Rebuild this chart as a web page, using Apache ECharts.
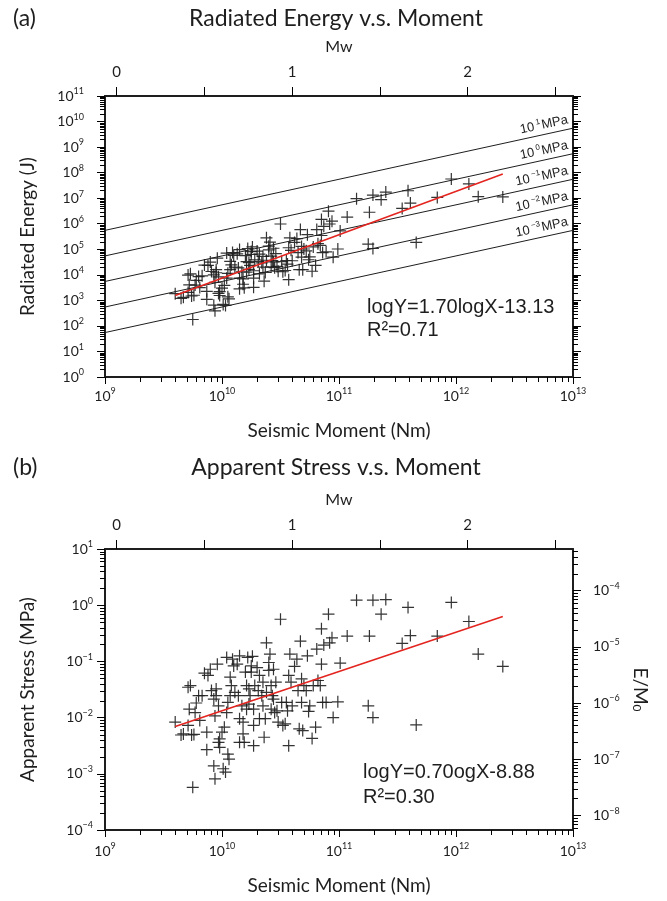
<!DOCTYPE html>
<html lang="en">

<head>
    <meta charset="UTF-8">
    <title>Radiated Energy / Apparent Stress v.s. Moment</title>
    <style>
        html,
        body {
            margin: 0;
            padding: 0;
            background: #fff;
        }

        #main {
            width: 667px;
            height: 901px;
        }
    </style>
    <script src="https://cdn.jsdelivr.net/npm/echarts@6/dist/echarts.min.js"></script>
</head>

<body>
    <div id="main"></div>
    <script>
        // every value is log10 (moment in Nm, stress in MPa, energy in J)
        const momentExp = [
            9.60, 9.65, 9.67, 9.71, 9.73, 9.72, 9.74, 9.76, 9.71, 9.78, 9.75, 9.80, 9.77,
            9.81, 9.83, 9.87, 9.87, 9.88, 9.85, 9.90, 9.93, 9.94, 9.95, 9.96, 9.97, 9.93, 9.94, 9.97, 9.98, 9.98, 9.95, 9.91,
            10.00, 10.01, 10.03, 10.02, 10.04, 10.05, 10.06, 10.04, 10.05, 10.07, 10.07, 10.08, 10.09, 10.10, 10.11, 10.13, 10.14, 10.15, 10.15, 10.15, 10.17, 10.18,
            10.18, 10.19, 10.20, 10.21, 10.21, 10.22, 10.23, 10.23, 10.24, 10.25, 10.25, 10.26, 10.27, 10.27, 10.27, 10.28, 10.30, 10.31, 10.32, 10.32, 10.34, 10.35, 10.35, 10.36, 10.37, 10.38, 10.38,
            10.40, 10.40, 10.41, 10.42, 10.42, 10.43, 10.44, 10.44, 10.45, 10.46, 10.47, 10.48, 10.50, 10.51, 10.52, 10.54, 10.55, 10.56,
            10.57, 10.57, 10.58, 10.59, 10.60, 10.62, 10.64, 10.65, 10.66, 10.67, 10.68, 10.68, 10.69, 10.70, 10.72, 10.73, 10.74, 10.75, 10.77, 10.78, 10.80, 10.81,
            10.82, 10.84, 10.85, 10.85, 10.86, 10.87, 10.89, 10.91, 10.92, 10.94, 10.95, 10.99, 11.01,
            11.07, 11.15, 11.25, 11.26, 11.29, 11.29, 11.36, 11.40, 11.54, 11.59, 11.61, 11.66, 11.84, 11.96, 12.11, 12.19, 12.40
        ];
        const stressExp = [
            -2.08, -2.31, -2.29, -1.46, -1.43, -1.85, -2.31, -2.30, -2.14, -1.74, -3.24, -1.61, -1.91,
            -2.05, -1.61, -2.26, -2.57, -1.25, -1.21, -1.14, -1.67, -1.97, -1.49, -1.05, -1.79, -2.86, -3.09, -2.44, -2.38, -2.53, -1.61, -1.52,
            -2.26, -2.91, -2.97, -2.17, -0.93, -2.65, -2.74, -1.91, -1.73, -1.61, -1.28, -1.43, -0.96, -1.08, -1.55, -1.05, -1.61, -2.02, -0.90, -2.44, -1.79, -2.08,
            -2.29, -2.44, -1.19, -1.85, -1.43, -0.93, -1.49, -1.76, -1.61, -1.08, -1.19, -0.91, -1.85, -2.50, -2.14, -1.43, -1.11, -1.52, -2.02, -1.25, -1.61, -1.37, -1.79, -2.35, -2.02, -1.55, -0.67,
            -1.16, -1.02, -0.87, -1.85, -1.43, -1.61, -1.14, -1.67, -1.91, -1.37, -1.88, -2.08, -0.25, -1.73, -2.14, -2.11, -1.73, -1.88,
            -1.25, -2.50, -0.87, -1.37, -1.79, -1.09, -0.96, -1.52, -2.20, -0.64, -1.73, -1.31, -2.23, -1.43, -1.52, -0.90, -1.89, -1.79, -2.37, -1.43, -2.17, -0.78,
            -1.34, -1.43, -0.42, -1.05, -1.73, -0.71, -1.73, -0.16, -0.67, -0.58, -2.00, -1.72, -1.03,
            -0.55, 0.09, -1.79, -0.55, -2.00, 0.09, -0.16, 0.10, -0.68, -0.04, -0.54, -2.13, -0.55, 0.05, -0.29, -0.87, -1.09
        ];
        const energyExp = [
            3.26, 3.08, 3.12, 3.99, 4.04, 3.61, 3.17, 3.20, 3.31, 3.78, 2.25, 3.93, 3.60,
            3.50, 3.96, 3.35, 3.04, 4.37, 4.38, 4.50, 4.00, 3.71, 4.20, 4.65, 3.92, 2.81, 2.59, 3.27, 3.34, 3.19, 4.08, 4.13,
            3.48, 2.84, 2.80, 3.59, 4.85, 3.14, 3.06, 3.87, 4.06, 4.20, 4.53, 4.39, 4.87, 4.76, 4.30, 4.82, 4.27, 3.87, 4.99, 3.45, 4.12, 3.84,
            3.63, 3.49, 4.75, 4.10, 4.52, 5.03, 4.48, 4.21, 4.37, 4.91, 4.80, 5.09, 4.16, 3.51, 3.87, 4.59, 4.93, 4.53, 4.04, 4.81, 4.47, 4.72, 4.30, 3.75, 4.09, 4.57, 5.45,
            4.98, 5.12, 5.28, 4.31, 4.73, 4.56, 5.04, 4.51, 4.28, 4.83, 4.33, 4.14, 5.99, 4.52, 4.12, 4.17, 4.56, 4.42,
            5.06, 3.81, 5.45, 4.96, 4.55, 5.27, 5.42, 4.87, 4.20, 5.77, 4.69, 5.11, 4.20, 5.01, 4.94, 5.57, 4.59, 4.70, 4.14, 5.09, 4.37, 5.77,
            5.22, 5.15, 6.17, 5.54, 4.87, 5.90, 4.90, 6.49, 5.99, 6.10, 4.69, 5.01, 5.72,
            6.26, 6.98, 5.20, 6.45, 5.03, 7.12, 6.94, 7.24, 6.60, 7.29, 6.81, 5.27, 7.03, 7.75, 7.56, 7.06, 7.05
        ];

        // constant apparent-stress lines in panel (a): log E at M0 = 1e9 and 1e13
        const stressLevels = ['1', '0', '−1', '−2', '−3'];
        const stressLineStart = [5.74, 4.74, 3.74, 2.74, 1.74];
        const stressLineEnd = [9.74, 8.74, 7.74, 6.74, 5.74];

        // regression lines (log M0, log Y)
        const energyFit = [[9.60, 3.19], [12.40, 7.95]];
        const stressFit = [[9.60, -2.16], [12.40, -0.20]];

        const mwTicks = [0, 0.5, 1, 1.5, 2, 2.5];
        const mwLabels = [0, 1, 2];
        const MW_MIN = -0.0667, MW_MAX = 2.6;
        const RATIO_MIN = Math.pow(10, -8.26), RATIO_MAX = Math.pow(10, -3.26);

        const INK = '#1e1e1e';
        const FONT = 'Lato, "Open Sans", sans-serif';
        const ARIAL = '"Liberation Sans", Arial, sans-serif';
        const PLUS = 'path://M5.4,0H6.6V5.4H12V6.6H6.6V12H5.4V6.6H0V5.4H5.4Z';

        const pow = e => Math.pow(10, e);

        function decades(a, b) {
            const out = [];
            for (let e = a; e <= b; e++) out.push(pow(e));
            return out;
        }

        // 2..9 x 10^e between lo and hi, for the small log ticks
        function minors(a, b, lo, hi) {
            const out = [];
            for (let e = a; e <= b; e++) {
                for (let m = 2; m <= 9; m++) {
                    const v = m * pow(e);
                    if (v > lo && v < hi) out.push(v);
                }
            }
            return out;
        }

        const labelRich = {
            b: { fontFamily: FONT, fontSize: 14, color: INK, lineHeight: 18 },
            s: { fontFamily: FONT, fontSize: 9, color: INK, verticalAlign: 'top', lineHeight: 18 }
        };

        function powLabel(v) {
            const e = Math.round(Math.log10(v));
            return '{b|10}{s|' + (e < 0 ? '−' + (-e) : e) + '}';
        }

        const nameStyle = { fontFamily: FONT, fontSize: 19, color: INK };
        const frame = { show: true, onZero: false, lineStyle: { color: INK, width: 2 } };

        function momentAxis(grid, margin, gap) {
            return {
                type: 'log', gridIndex: grid, position: 'bottom', min: 1e9, max: 1e13,
                name: 'Seismic Moment (Nm)', nameLocation: 'middle', nameGap: gap, nameTextStyle: nameStyle,
                axisLine: frame,
                axisTick: { show: true, length: 7, customValues: decades(9, 13), lineStyle: { color: '#000' } },
                axisLabel: { margin: margin, customValues: decades(9, 13), formatter: powLabel, rich: labelRich },
                splitLine: { show: false }
            };
        }

        function mwAxis(grid) {
            return {
                type: 'value', gridIndex: grid, position: 'top', min: MW_MIN, max: MW_MAX,
                name: 'Mw', nameLocation: 'middle', nameGap: 41,
                nameTextStyle: { fontFamily: FONT, fontSize: 16, color: INK },
                axisLine: frame,
                axisTick: { show: true, length: 9, customValues: mwTicks, lineStyle: { color: '#000' } },
                axisLabel: { margin: 16, customValues: mwLabels, fontFamily: FONT, fontSize: 15, color: INK },
                splitLine: { show: false }
            };
        }

        function logYAxis(grid, position, min, max, ticks, opts) {
            return Object.assign({
                type: 'log', gridIndex: grid, position: position, min: min, max: max,
                axisLine: frame,
                axisTick: { show: true, length: 8, customValues: ticks, lineStyle: { color: '#000' } },
                axisLabel: { show: false },
                splitLine: { show: false }
            }, opts || {});
        }

        // short outward strokes at the 2..9 positions, placed through the axes' own scales
        function minorTicks(xIdx, yIdx, points, dx, dy) {
            return {
                type: 'custom', xAxisIndex: xIdx, yAxisIndex: yIdx, clip: false, silent: true, z: 2,
                data: points,
                renderItem: (params, api) => {
                    const p = api.coord([api.value(0), api.value(1)]);
                    // snap to the pixel grid so a 1px stroke stays sharp
                    const x = dy ? Math.round(p[0]) + 0.5 : p[0];
                    const y = dx ? Math.round(p[1]) + 0.5 : p[1];
                    return {
                        type: 'line',
                        shape: { x1: x, y1: y, x2: x + dx, y2: y + dy },
                        style: { stroke: '#000', lineWidth: 1 }
                    };
                }
            };
        }

        const chart = echarts.init(document.getElementById('main'));

        const energyPoints = momentExp.map((m, i) => [pow(m), pow(energyExp[i])]);
        const stressPoints = momentExp.map((m, i) => [pow(m), pow(stressExp[i])]);

        const stressLineSeries = stressLevels.map((lvl, i) => ({
            name: '10^' + lvl + ' MPa',
            type: 'line', xAxisIndex: 0, yAxisIndex: 0,
            data: [[1e9, pow(stressLineStart[i])], [1e13, pow(stressLineEnd[i])]],
            symbol: 'none', silent: true, z: 3,
            lineStyle: { color: INK, width: 1 }
        }));

        const minorM = minors(9, 12, 1e9, 1e13);
        const minorE = minors(0, 10, 1, 1e11);
        const minorS = minors(-4, 0, 1e-4, 10);
        const minorR = minors(-9, -4, RATIO_MIN, RATIO_MAX);

        const tickSeries = [
            minorTicks(0, 0, minorM.map(v => [v, 1]), 0, 5),
            minorTicks(0, 0, minorE.map(v => [1e9, v]), -5, 0),
            minorTicks(0, 0, minorE.map(v => [1e13, v]), 5, 0),
            minorTicks(2, 2, minorM.map(v => [v, 1e-4]), 0, 5),
            minorTicks(2, 2, minorS.map(v => [1e9, v]), -5, 0),
            minorTicks(2, 3, minorR.map(v => [1e13, v]), 5, 0)
        ];

        const option = {
            animation: false,
            backgroundColor: '#fff',
            grid: [
                { left: 105, top: 96, width: 468, height: 281 },
                { left: 105, top: 549, width: 468, height: 281 }
            ],
            xAxis: [
                momentAxis(0, 10, 44),
                mwAxis(0),
                momentAxis(1, 12, 46),
                mwAxis(1)
            ],
            yAxis: [
                logYAxis(0, 'left', 1, 1e11, decades(0, 11), {
                    name: 'Radiated Energy (J)', nameLocation: 'middle', nameGap: 68, nameTextStyle: nameStyle,
                    axisLabel: { margin: 21, customValues: decades(0, 11), formatter: powLabel, rich: labelRich }
                }),
                logYAxis(0, 'right', 1, 1e11, decades(0, 11)),
                logYAxis(1, 'left', 1e-4, 10, decades(-4, 1), {
                    name: 'Apparent Stress (MPa)', nameLocation: 'middle', nameGap: 68, nameTextStyle: nameStyle,
                    axisLabel: { margin: 12, customValues: decades(-4, 1), formatter: powLabel, rich: labelRich }
                }),
                logYAxis(1, 'right', RATIO_MIN, RATIO_MAX, decades(-8, -4), {
                    name: 'E/M{sub|0}', nameLocation: 'middle', nameGap: 58, nameRotate: -90,
                    nameTextStyle: {
                        fontFamily: FONT, fontSize: 19, color: INK,
                        rich: { sub: { fontFamily: FONT, fontSize: 12, color: INK, verticalAlign: 'bottom' } }
                    },
                    axisLabel: { margin: 20, customValues: decades(-8, -4), formatter: powLabel, rich: labelRich }
                })
            ],
            series: tickSeries.concat(stressLineSeries, [
                {
                    name: 'Radiated Energy', type: 'scatter', xAxisIndex: 0, yAxisIndex: 0,
                    data: energyPoints, symbol: PLUS, symbolSize: 12, z: 4,
                    itemStyle: { color: INK, opacity: 0.9 }
                },
                {
                    name: 'Energy fit', type: 'line', xAxisIndex: 0, yAxisIndex: 0,
                    data: energyFit.map(p => [pow(p[0]), pow(p[1])]),
                    symbol: 'none', silent: true, z: 6,
                    lineStyle: { color: '#e3241f', width: 1.6 }
                },
                {
                    name: 'Apparent Stress', type: 'scatter', xAxisIndex: 2, yAxisIndex: 2,
                    data: stressPoints, symbol: PLUS, symbolSize: 12, z: 4,
                    itemStyle: { color: INK, opacity: 0.9 }
                },
                {
                    name: 'Stress fit', type: 'line', xAxisIndex: 2, yAxisIndex: 2,
                    data: stressFit.map(p => [pow(p[0]), pow(p[1])]),
                    symbol: 'none', silent: true, z: 6,
                    lineStyle: { color: '#e3241f', width: 1.6 }
                }
            ])
        };

        chart.setOption(option);

        // texts: panel titles, regression notes and labels riding on the stress lines
        const titleFont = { fontFamily: FONT, fontSize: 23, fill: INK, verticalAlign: 'middle' };
        const noteFont = { fontFamily: ARIAL, fontSize: 20, fill: INK, verticalAlign: 'middle' };
        const graphics = [
            { type: 'text', x: 13, y: 19, style: Object.assign({ text: '(a)' }, titleFont) },
            { type: 'text', x: 336, y: 19, style: Object.assign({ text: 'Radiated Energy v.s. Moment', align: 'center' }, titleFont) },
            { type: 'text', x: 13, y: 468, style: Object.assign({ text: '(b)' }, titleFont) },
            { type: 'text', x: 336, y: 468, style: Object.assign({ text: 'Apparent Stress v.s. Moment', align: 'center' }, titleFont) },
            { type: 'text', x: 367, y: 307, style: Object.assign({ text: 'logY=1.70logX-13.13' }, noteFont) },
            { type: 'text', x: 367, y: 330, style: Object.assign({ text: 'R²=0.71' }, noteFont) },
            { type: 'text', x: 363, y: 772, style: Object.assign({ text: 'logY=0.70ogX-8.88' }, noteFont) },
            { type: 'text', x: 363, y: 797, style: Object.assign({ text: 'R²=0.30' }, noteFont) }
        ];

        const labelAt = 12.97;
        stressLevels.forEach((lvl, i) => {
            const a = chart.convertToPixel({ xAxisIndex: 0, yAxisIndex: 0 }, [1e9, pow(stressLineStart[i])]);
            const b = chart.convertToPixel({ xAxisIndex: 0, yAxisIndex: 0 }, [1e13, pow(stressLineEnd[i])]);
            const logE = stressLineStart[i] + (labelAt - 9) * (stressLineEnd[i] - stressLineStart[i]) / 4;
            const p = chart.convertToPixel({ xAxisIndex: 0, yAxisIndex: 0 }, [pow(labelAt), pow(logE)]);
            graphics.push({
                type: 'text', x: p[0], y: p[1] - 1.5, rotation: Math.atan2(a[1] - b[1], b[0] - a[0]),
                style: {
                    text: '{m|10}{s|' + lvl + '}{m|MPa}',
                    align: 'right', verticalAlign: 'bottom', fill: INK,
                    rich: {
                        m: { fontFamily: ARIAL, fontSize: 13, fill: INK, lineHeight: 16 },
                        s: { fontFamily: ARIAL, fontSize: 8, fill: INK, verticalAlign: 'top', lineHeight: 16, padding: [0, 1, 0, 2] }
                    }
                }
            });
        });

        chart.setOption({ graphic: graphics });

        window.addEventListener('resize', () => chart.resize());
    </script>
</body>

</html>
